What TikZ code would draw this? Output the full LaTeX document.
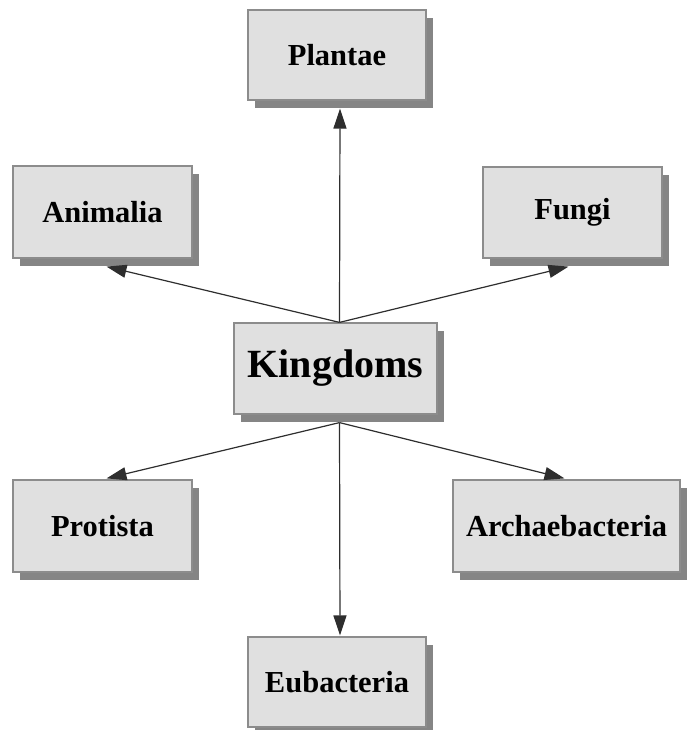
\documentclass[tikz,border=0pt]{standalone}
\usepackage{fontspec}
\setmainfont{Liberation Serif}
\usetikzlibrary{arrows.meta,shadows}
\definecolor{boxfill}{HTML}{E0E0E0}
\definecolor{boxline}{HTML}{8C8C8C}
\definecolor{shadowgray}{HTML}{858585}
\definecolor{arrowcol}{HTML}{2E2E2E}
\tikzset{
  kbox/.style={draw=boxline, line width=1.2pt, fill=boxfill, rectangle, inner sep=0pt,
    font=\fontsize{30.5}{35}\selectfont\bfseries,
    drop shadow={shadow xshift=7pt, shadow yshift=-8pt, fill=shadowgray, opacity=1}},
  link/.style={draw=arrowcol, line width=1.2pt, -{Triangle[length=20pt,width=13pt]}}
}
\begin{document}
\begin{tikzpicture}[x=1pt,y=-1pt]
\useasboundingbox (0,0) rectangle (687,730);
% boxes: centre and size
\node[kbox, minimum width=178pt, minimum height=90pt] (P) at (337,55) {Plantae};
\node[kbox, minimum width=179pt, minimum height=92pt] (A) at (102.5,212) {Animalia};
\node[kbox, minimum width=179pt, minimum height=91pt] (F) at (572.5,212.5) {Fungi};
\node[kbox, minimum width=203pt, minimum height=91pt, font=\fontsize{40}{46}\selectfont\bfseries] (K) at (335.5,368.5) {Kingdoms};
\node[kbox, minimum width=179pt, minimum height=92pt] (Pr) at (102.5,526) {Protista};
\node[kbox, minimum width=227pt, minimum height=92pt] (Ar) at (566.5,526) {Archaebacteria};
\node[kbox, minimum width=178pt, minimum height=90pt] (E) at (337,682) {Eubacteria};
% connectors
\coordinate (Ktop) at ([xshift=4pt]K.north);
\coordinate (Kbot) at ([xshift=4pt,yshift=-8pt]K.south);
\draw[link] (Ktop) -- ([xshift=3pt,yshift=-8pt]P.south);
\draw[link] (Ktop) -- ([xshift=4pt,yshift=-8pt]A.south);
\draw[link] (Ktop) -- ([xshift=-4pt,yshift=-8pt]F.south);
\draw[link] (Kbot) -- ([xshift=4pt,yshift=1pt]Pr.north);
\draw[link] (Kbot) -- ([xshift=-2pt,yshift=1pt]Ar.north);
\draw[link] (Kbot) -- ([xshift=3pt,yshift=1pt]E.north);
\end{tikzpicture}
\end{document}
